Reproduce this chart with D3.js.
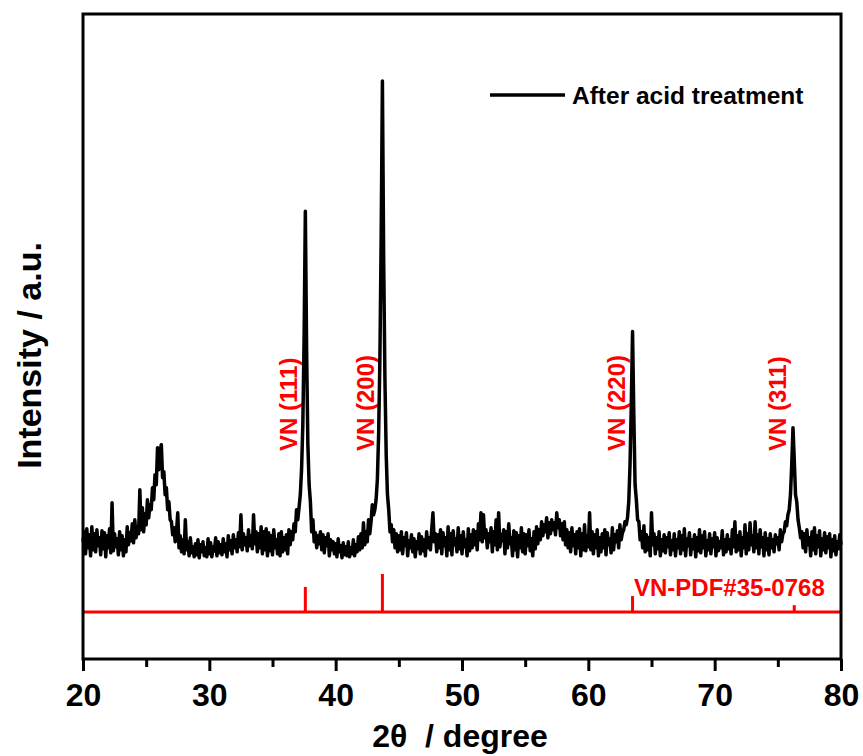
<!DOCTYPE html>
<html>
<head>
<meta charset="utf-8">
<script src="https://cdn.jsdelivr.net/npm/d3@7"></script>
<style>
  body { margin: 0; background: #fff; }
  text { font-family: "Liberation Sans", Arial, sans-serif; font-weight: bold; }
</style>
</head>
<body>
<div id="chart"></div>
<script>
const width = 863;
const height = 756;

// XRD scan: 2theta from 20 to 80 deg, step 0.1
const scanStart = 20;
const scanStep = 0.1;
const intensity = [
  118,128,106,131,112,125,104,133,110,126,
  108,130,114,122,105,129,111,127,103,124,
  112,131,107,157,109,126,113,121,105,128,
  110,124,104,120,108,133,115,127,119,136,
  117,140,122,133,126,170,130,152,128,146,
  135,160,142,155,150,172,160,185,175,212,
  190,208,215,182,188,165,172,150,158,140,
  138,125,132,118,128,147,112,124,108,120,
  106,140,110,118,104,122,107,113,103,116,
  105,120,102,115,108,118,104,112,103,121,
  106,117,103,113,109,122,104,118,107,115,
  105,121,108,116,103,124,110,119,106,125,
  112,120,108,127,113,145,110,126,115,122,
  109,130,114,124,111,145,116,128,108,126,
  112,133,106,128,110,131,104,127,109,124,
  105,130,112,120,106,126,104,128,108,122,
  110,125,106,130,115,128,120,136,128,150,
  140,152,165,190,235,320,448,310,215,175,
  158,128,140,118,127,112,124,116,128,110,
  125,107,122,114,126,104,120,110,118,106,
  116,103,121,108,114,102,117,105,113,104,
  118,103,112,106,120,104,115,108,123,110,
  126,112,137,115,128,118,140,126,138,155,
  145,150,160,180,225,300,420,578,400,280,
  205,165,150,128,135,118,130,112,126,108,
  124,110,128,106,122,114,127,104,119,112,
  125,108,121,103,118,111,126,106,123,109,
  120,104,128,112,122,110,130,147,118,126,
  108,125,112,130,106,127,114,122,104,133,
  110,126,105,129,115,121,108,132,111,124,
  106,128,113,120,104,131,109,125,112,130,
  115,128,110,136,120,147,118,145,122,130,
  112,126,118,132,108,128,115,140,110,147,
  113,125,119,130,106,128,112,136,116,122,
  104,129,110,127,103,124,112,132,108,126,
  106,125,114,130,109,121,104,128,111,133,
  116,130,120,138,124,135,128,142,122,137,
  126,140,130,137,125,147,132,140,124,136,
  120,138,115,130,112,127,108,132,114,125,
  106,128,112,131,104,126,110,135,109,124,
  113,147,110,128,106,125,112,130,104,122,
  108,126,112,130,105,127,115,121,107,132,
  110,125,118,129,112,135,120,127,130,138,
  135,142,158,195,255,328,245,175,160,140,
  138,120,128,112,134,108,125,110,122,104,
  147,115,126,106,122,111,128,104,120,109,
  125,107,122,113,127,105,119,110,126,104,
  120,112,128,106,124,110,131,104,121,114,
  127,105,120,111,125,103,122,109,130,107,
  124,112,128,104,119,110,126,106,121,113,
  127,104,122,109,118,112,129,105,120,108,
  125,111,120,106,130,113,138,108,124,110,
  128,104,122,112,135,106,126,110,137,115,
  124,108,138,112,125,106,130,113,122,104,
  127,110,121,105,126,112,120,108,125,116,
  122,110,130,118,126,128,138,134,145,150,
  165,195,232,200,165,158,140,132,122,128,
  112,126,108,130,115,122,104,128,110,132,
  106,124,113,129,104,121,110,127,107,123,
  112,126,103,120,109,124,105,118,111,125,
  115
];

// reference pattern VN PDF#35-0768
const refPos = [37.6, 43.7, 63.5, 76.3];
const refInt = [66, 100, 42, 18];
const refLabels = ["VN (111)", "VN (200)", "VN (220)", "VN (311)"];

const majorTicks = [20, 30, 40, 50, 60, 70, 80];
const minorTicks = [25, 35, 45, 55, 65, 75];

const margin = { left: 83, right: 22, top: 14, bottom: 97 };
const x0 = margin.left, x1 = width - margin.right;
const y0 = height - margin.bottom, y1 = margin.top;

const x = d3.scaleLinear().domain([20, 80]).range([x0, x1]);
const y = d3.scaleLinear().domain([0, 645]).range([y0 + 1, y1]);
const yRef = d3.scaleLinear().domain([0, 100]).range([612, 574]);

const svg = d3.select("#chart").append("svg")
  .attr("width", width)
  .attr("height", height);

const scan = intensity.map((v, i) => [scanStart + i * scanStep, v]);

// reference sticks
svg.append("line")
  .attr("x1", x(20)).attr("x2", x(80))
  .attr("y1", yRef(0)).attr("y2", yRef(0))
  .attr("stroke", "#ff0000")
  .attr("stroke-width", 3);

svg.append("g")
  .selectAll("line")
  .data(refPos)
  .enter()
  .append("line")
  .attr("x1", d => x(d)).attr("x2", d => x(d))
  .attr("y1", yRef(0))
  .attr("y2", (d, i) => yRef(refInt[i]))
  .attr("stroke", "#ff0000")
  .attr("stroke-width", 3);

svg.append("text")
  .attr("x", 634)
  .attr("y", 596)
  .attr("fill", "#ff0000")
  .style("font-size", "24px")
  .text("VN-PDF#35-0768");

// peak labels
svg.append("g")
  .selectAll("text")
  .data(refLabels)
  .enter()
  .append("text")
  .attr("transform", (d, i) => "translate(" + (x(refPos[i]) - 8) + ",451) rotate(-90)")
  .attr("fill", "#ff0000")
  .style("font-size", "24px")
  .text(d => d);

// XRD line
svg.append("path")
  .datum(scan)
  .attr("fill", "none")
  .attr("stroke", "#000")
  .attr("stroke-width", 3.5)
  .attr("stroke-linejoin", "round")
  .attr("d", d3.line().x(d => x(d[0])).y(d => y(d[1])));

// frame
svg.append("rect")
  .attr("x", x0).attr("y", y1)
  .attr("width", x1 - x0).attr("height", y0 - y1)
  .attr("fill", "none")
  .attr("stroke", "#000")
  .attr("stroke-width", 3);

// x axis
const xAxis = svg.append("g")
  .attr("transform", "translate(0," + y0 + ")")
  .call(d3.axisBottom(x).tickValues(majorTicks).tickSize(12).tickPadding(12).tickFormat(d3.format("d")));
xAxis.select(".domain").remove();
xAxis.selectAll("line").attr("stroke-width", 3);
xAxis.selectAll("text")
  .style("font-size", "32px")
  .style("font-family", "'Liberation Sans', Arial, sans-serif")
  .style("font-weight", "bold")
  .attr("fill", "#000");

const xMinor = svg.append("g")
  .attr("transform", "translate(0," + y0 + ")")
  .call(d3.axisBottom(x).tickValues(minorTicks).tickSize(8).tickFormat(""));
xMinor.select(".domain").remove();
xMinor.selectAll("line").attr("stroke-width", 3);

svg.append("text")
  .attr("x", (x0 + x1) / 2 - 2)
  .attr("y", 747)
  .attr("text-anchor", "middle")
  .style("font-size", "32px")
  .style("white-space", "pre")
  .text("2θ  / degree");

svg.append("text")
  .attr("transform", "translate(41," + ((y0 + y1) / 2 + 19) + ") rotate(-90)")
  .attr("text-anchor", "middle")
  .style("font-size", "34px")
  .text("Intensity / a.u.");

// legend
svg.append("line")
  .attr("x1", 490).attr("x2", 565)
  .attr("y1", 95).attr("y2", 95)
  .attr("stroke", "#000")
  .attr("stroke-width", 3.5);

svg.append("text")
  .attr("x", 572)
  .attr("y", 104)
  .style("font-size", "24.5px")
  .text("After acid treatment");
</script>
</body>
</html>
